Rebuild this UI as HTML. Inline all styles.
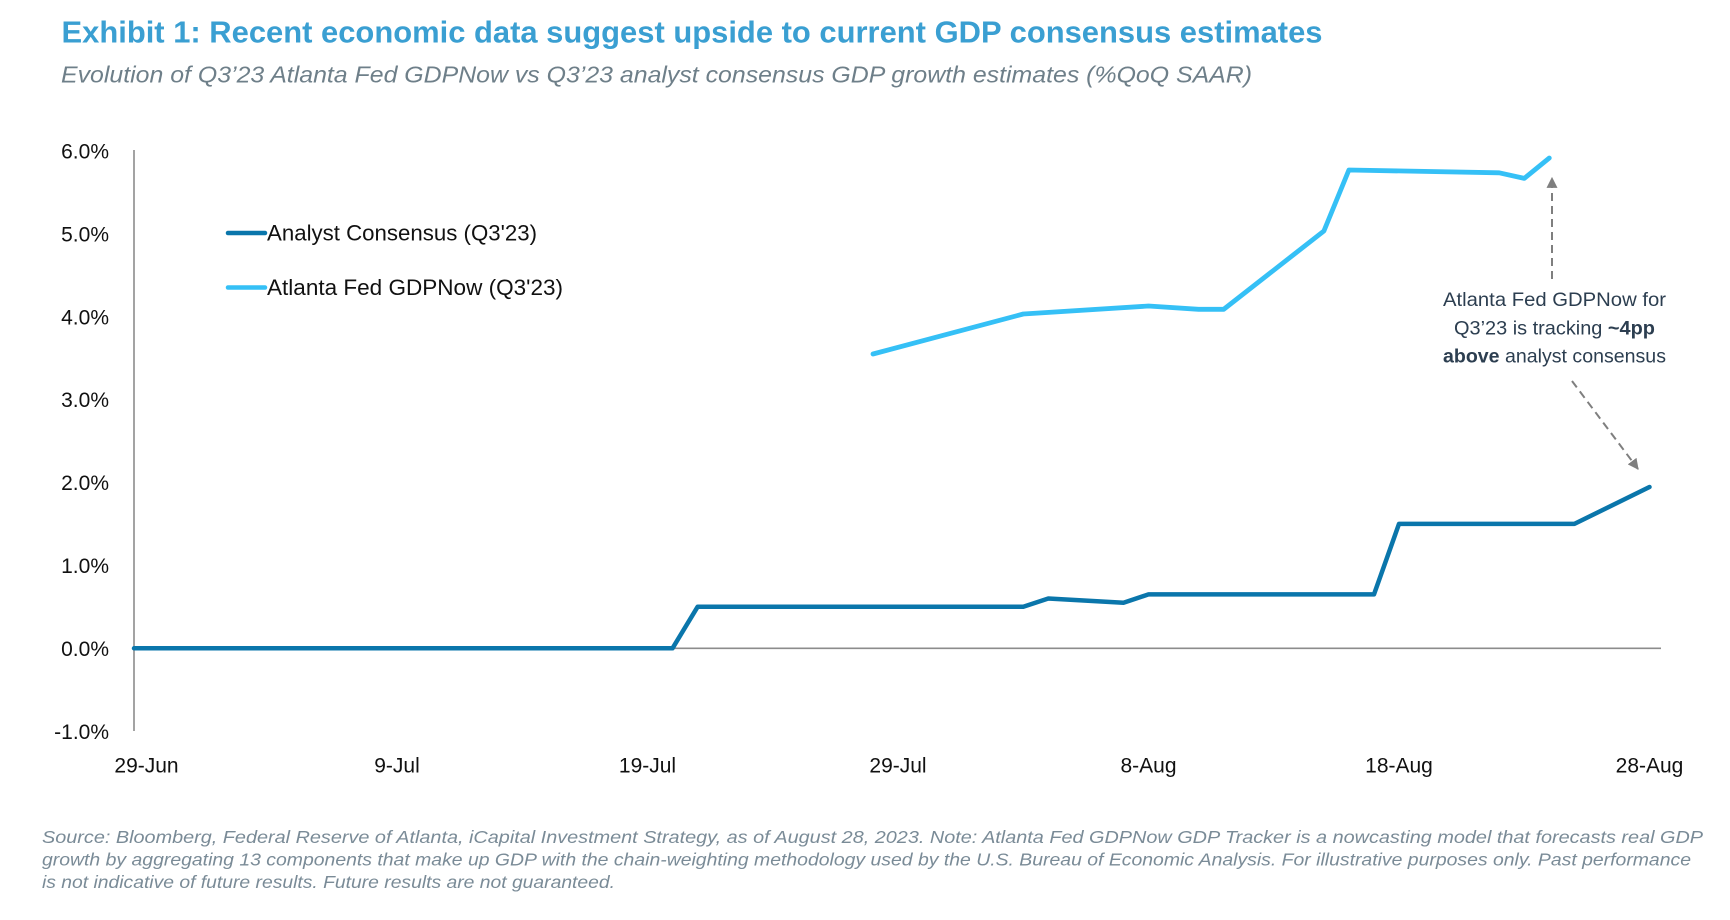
<!DOCTYPE html>
<html>
<head>
<meta charset="utf-8">
<style>
  html, body { margin: 0; padding: 0; background: #ffffff; }
  body { width: 1730px; height: 920px; overflow: hidden; }
  svg { display: block; }
  text { font-family: "Liberation Sans", "DejaVu Sans", sans-serif; }
</style>
</head>
<body>
<svg width="1730" height="920" viewBox="0 0 1730 920" xmlns="http://www.w3.org/2000/svg">
  <defs>
    <marker id="ah" viewBox="0 0 10 10" refX="9" refY="5" markerWidth="5.5" markerHeight="5.5" orient="auto" markerUnits="strokeWidth">
      <path d="M0,0 L10,5 L0,10 z" fill="#7f7f7f"/>
    </marker>
  </defs>
  <rect x="0" y="0" width="1730" height="920" fill="#ffffff"/>

  <!-- Title -->
  <text x="61.5" y="42.3" font-size="31" font-weight="bold" fill="#3a9fd2" textLength="1261" lengthAdjust="spacingAndGlyphs">Exhibit 1: Recent economic data suggest upside to current GDP consensus estimates</text>
  <text x="61" y="82.7" font-size="23" font-style="italic" fill="#6e7f89" textLength="1191" lengthAdjust="spacingAndGlyphs">Evolution of Q3’23 Atlanta Fed GDPNow vs Q3’23 analyst consensus GDP growth estimates (%QoQ SAAR)</text>

  <!-- Axes -->
  <line x1="134" y1="150" x2="134" y2="731" stroke="#8c8c8c" stroke-width="1.6"/>
  <line x1="134" y1="648.3" x2="1661" y2="648.3" stroke="#8c8c8c" stroke-width="1.6"/>

  <!-- Y tick labels -->
  <g font-size="21" fill="#111111" text-anchor="end">
    <text x="109" y="158.5">6.0%</text>
    <text x="109" y="241.4">5.0%</text>
    <text x="109" y="324.3">4.0%</text>
    <text x="109" y="407.2">3.0%</text>
    <text x="109" y="490.1">2.0%</text>
    <text x="109" y="573.0">1.0%</text>
    <text x="109" y="655.9">0.0%</text>
    <text x="109" y="738.8">-1.0%</text>
  </g>

  <!-- X tick labels -->
  <g font-size="21" fill="#111111" text-anchor="middle">
    <text x="146.5" y="772.7">29-Jun</text>
    <text x="397" y="772.7">9-Jul</text>
    <text x="647.5" y="772.7">19-Jul</text>
    <text x="898" y="772.7">29-Jul</text>
    <text x="1148.5" y="772.7">8-Aug</text>
    <text x="1399" y="772.7">18-Aug</text>
    <text x="1649.5" y="772.7">28-Aug</text>
  </g>

  <!-- Analyst Consensus series -->
  <polyline fill="none" stroke="#0a76ab" stroke-width="4.5" stroke-linejoin="round" stroke-linecap="round"
    points="134,648.3 672.5,648.3 697.6,606.8 1023.3,606.8 1048.3,598.5 1123.5,602.7 1148.5,594.4 1374,594.4 1399,523.9 1574.4,523.9 1649.5,487"/>

  <!-- Atlanta Fed GDPNow series -->
  <polyline fill="none" stroke="#35c0f6" stroke-width="4.8" stroke-linejoin="round" stroke-linecap="round"
    points="873,354 1023.3,314 1148.5,306 1198.6,309.3 1223.7,309.3 1323.9,231 1348.9,170 1499.2,172.8 1524.3,178.4 1549.3,158"/>

  <!-- Legend -->
  <line x1="228" y1="233" x2="265" y2="233" stroke="#0a76ab" stroke-width="4.5" stroke-linecap="round"/>
  <text x="267" y="240.7" font-size="22" fill="#111111" textLength="270" lengthAdjust="spacingAndGlyphs">Analyst Consensus (Q3'23)</text>
  <line x1="228" y1="287.5" x2="265" y2="287.5" stroke="#35c0f6" stroke-width="4.5" stroke-linecap="round"/>
  <text x="267" y="295.2" font-size="22" fill="#111111" textLength="296" lengthAdjust="spacingAndGlyphs">Atlanta Fed GDPNow (Q3'23)</text>

  <!-- Annotation arrows -->
  <line x1="1552" y1="279" x2="1552" y2="178" stroke="#7f7f7f" stroke-width="2" stroke-dasharray="8,5" marker-end="url(#ah)"/>
  <line x1="1572" y1="381" x2="1638" y2="469" stroke="#7f7f7f" stroke-width="2" stroke-dasharray="8,5" marker-end="url(#ah)"/>

  <!-- Annotation text -->
  <g font-size="19.5" fill="#2c3e50" text-anchor="middle">
    <text x="1554.5" y="306" textLength="223" lengthAdjust="spacingAndGlyphs">Atlanta Fed GDPNow for</text>
    <text x="1554.5" y="334.3" textLength="201" lengthAdjust="spacingAndGlyphs">Q3’23 is tracking <tspan font-weight="bold">~4pp</tspan></text>
    <text x="1554.5" y="362.3" textLength="223" lengthAdjust="spacingAndGlyphs"><tspan font-weight="bold">above</tspan> analyst consensus</text>
  </g>

  <!-- Footer -->
  <g font-size="17.5" font-style="italic" fill="#7a8b97">
    <text x="42" y="843" textLength="1661" lengthAdjust="spacingAndGlyphs">Source: Bloomberg, Federal Reserve of Atlanta, iCapital Investment Strategy, as of August 28, 2023. Note: Atlanta Fed GDPNow GDP Tracker is a nowcasting model that forecasts real GDP</text>
    <text x="42" y="865.5" textLength="1649" lengthAdjust="spacingAndGlyphs">growth by aggregating 13 components that make up GDP with the chain-weighting methodology used by the U.S. Bureau of Economic Analysis. For illustrative purposes only. Past performance</text>
    <text x="42" y="888" textLength="573" lengthAdjust="spacingAndGlyphs">is not indicative of future results. Future results are not guaranteed.</text>
  </g>
</svg>
</body>
</html>
